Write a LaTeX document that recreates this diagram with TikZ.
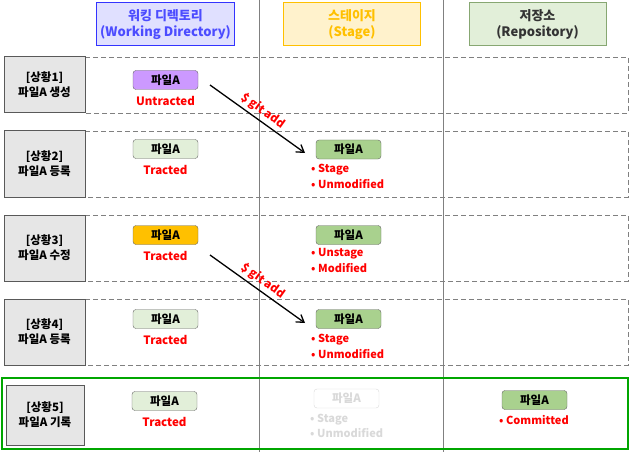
\documentclass[tikz,border=0pt]{standalone}
\usepackage{fontspec}
\setmainfont{Noto Sans CJK KR}
\usetikzlibrary{arrows.meta}
\definecolor{rd}{HTML}{FF0000}
\definecolor{gbox}{HTML}{E6E6E6}
\definecolor{lgreen}{HTML}{E2EFD9}
\definecolor{mgreen}{HTML}{A9D18E}
\definecolor{purp}{HTML}{CC99FF}
\definecolor{orng}{HTML}{FFC000}
\definecolor{faded}{HTML}{D9D9D9}
\tikzset{
 hdr/.style={draw, line width=1pt, minimum width=137pt, minimum height=43pt, align=center, font=\fontsize{13}{16}\selectfont\bfseries},
 lbl/.style={draw=gray!70!black, line width=1pt, fill=gbox, minimum width=81pt, align=center, font=\fontsize{11.5}{15}\selectfont\bfseries},
 file/.style={draw=gray!80!black, rounded corners=3pt, minimum width=65pt, minimum height=19pt, inner sep=0pt, font=\fontsize{11.5}{13}\selectfont\bfseries},
 st/.style={text=rd, font=\fontsize{11.5}{13}\selectfont\bfseries, inner sep=0pt},
 bul/.style={text=rd, anchor=west, font=\fontsize{11}{13}\selectfont\bfseries, inner sep=0pt},
 dsh/.style={draw=gray, dashed, dash pattern=on 5pt off 3pt},
 arr/.style={-{Straight Barb[length=7pt,width=9pt]}, line width=1.3pt},
 cmd/.style={sloped, above, text=rd, font=\fontsize{11.5}{13}\selectfont\bfseries, inner sep=3pt, pos=0.5}
}
\begin{document}
\begin{tikzpicture}[x=1pt,y=-1pt]
\useasboundingbox (0,0) rectangle (630,452);
\draw[gray, line width=1pt] (259,0) -- (259,452);
\draw[gray, line width=1pt] (443,0) -- (443,452);
\node[hdr, draw=blue!80!white, fill=blue!12!white, text=blue!70!white] (h1) at (165.5,24.5) {워킹 디렉토리\\(Working Directory)};
\node[hdr, draw=orng, fill=orng!20!white, text=orng] (h2) at (352,24.5) {스테이지\\(Stage)};
\node[hdr, draw=mgreen!80!black, fill=lgreen, text=black!80] (h3) at (537.5,24.5) {저장소\\(Repository)};
\foreach \t/\b in {57/113,131/197,215/281,299/365}{
 \draw[dsh] (85,\t) -- (628,\t) -- (628,\b) -- (85,\b);
}
\node[lbl, minimum height=56pt] (l1) at (44.5,85) {[상황1]\\파일A 생성};
\node[lbl, minimum height=66pt] (l2) at (44.5,164) {[상황2]\\파일A 등록};
\node[lbl, minimum height=66pt] (l3) at (44.5,248) {[상황3]\\파일A 수정};
\node[lbl, minimum height=66pt] (l4) at (44.5,332) {[상황4]\\파일A 등록};
\draw[draw=green!65!black, line width=2.5pt] (2,378) rectangle (628,449);
\node[lbl, minimum height=60pt, minimum width=78pt] (l5) at (45,415) {[상황5]\\파일A 기록};
\node[file, fill=purp] (w1) at (165.5,80) {파일A};
\node[st] (w1s) at (165.5,101) {Untracted};
\node[file, fill=lgreen] (w2) at (165.5,149) {파일A};
\node[st] (w2s) at (165.5,170) {Tracted};
\node[file, fill=orng] (w3) at (165.5,235) {파일A};
\node[st] (w3s) at (165.5,256) {Tracted};
\node[file, fill=lgreen] (w4) at (165.5,319) {파일A};
\node[st] (w4s) at (165.5,340) {Tracted};
\node[file, fill=lgreen] (w5) at (164.5,401) {파일A};
\node[st] (w5s) at (164.5,422) {Tracted};
\node[file, fill=mgreen] (s2) at (348.5,149.5) {파일A};
\node[bul] (s2a) at (311,170) {• Stage};
\node[bul] (s2b) at (311,184) {• Unmodified};
\node[file, fill=mgreen] (s3) at (348.5,235) {파일A};
\node[bul] (s3a) at (311,254) {• Unstage};
\node[bul] (s3b) at (311,268) {• Modified};
\node[file, fill=mgreen] (s4) at (348.5,319) {파일A};
\node[bul] (s4a) at (311,340) {• Stage};
\node[bul] (s4b) at (311,354) {• Unmodified};
\node[file, draw=faded, fill=white, text=faded] (s5) at (346.5,398.5) {파일A};
\node[bul, text=faded] (s5a) at (310,420) {• Stage};
\node[bul, text=faded] (s5b) at (310,433) {• Unmodified};
\node[file, fill=mgreen] (r5) at (534.5,400) {파일A};
\node[bul] (r5a) at (499,420) {• Committed};
\coordinate (a1s) at (210,85);
\coordinate (a1e) at (305,153);
\draw[arr] (a1s) -- node[cmd] {\$ git add} (a1e);
\coordinate (a2s) at (210,255);
\coordinate (a2e) at (305,323);
\draw[arr] (a2s) -- node[cmd] {\$ git add} (a2e);
\end{tikzpicture}
\end{document}
